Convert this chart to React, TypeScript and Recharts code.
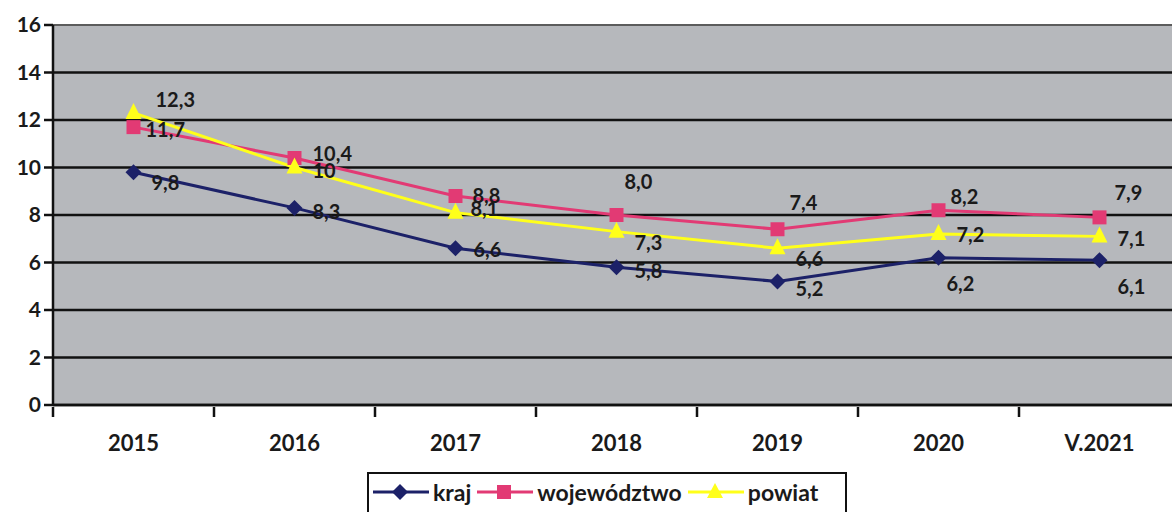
// Stopa bezrobocia — kraj / województwo / powiat, 2015–V.2021.
import { LineChart, Line, XAxis, YAxis, CartesianGrid } from "recharts";

const years = ["2015", "2016", "2017", "2018", "2019", "2020", "V.2021"];
const kraj = [9.8, 8.3, 6.6, 5.8, 5.2, 6.2, 6.1];
const wojewodztwo = [11.7, 10.4, 8.8, 8.0, 7.4, 8.2, 7.9];
const powiat = [12.3, 10, 8.1, 7.3, 6.6, 7.2, 7.1];
const yTicks = [0, 2, 4, 6, 8, 10, 12, 14, 16];

const data = years.map((year, i) => ({
  year,
  kraj: kraj[i],
  wojewodztwo: wojewodztwo[i],
  powiat: powiat[i],
}));

const FONT = "Lato, 'Open Sans', sans-serif";
const NAVY = "#1c2168";
const PINK = "#e23a74";
const YELLOW = "#ffff1a";

const CHART_W = 1180;
const Y_AXIS_W = 53;
const BAND = (CHART_W - Y_AXIS_W) / years.length;

// label offsets per series, by point index
const labelOffsets: Record<string, [number, number][]> = {
  kraj: [[18, 10], [18, 3], [18, 1], [18, 3], [18, 6], [8, 25], [18, 26]],
  wojewodztwo: [[12, 2], [18, -5], [17, -1], [8, -34], [12, -27], [12, -14], [15, -25]],
  powiat: [[22, -14], [18, 2], [15, -5], [18, 10], [18, 10], [18, 0], [18, 2]],
};

// Excel-like: one decimal, comma separator; "10" stays bare like the original
const fmt = (v: number) =>
  (Number.isInteger(v) && v >= 10 ? String(v) : v.toFixed(1)).replace(".", ",");

function makeLabel(key: string) {
  return (props: any) => {
    const { x, y, value, index } = props;
    const [dx, dy] = labelOffsets[key][index];
    return (
      <text
        x={x + dx}
        y={y + dy}
        fontFamily={FONT}
        fontWeight={700}
        fontSize={20}
        fill="#1a1a1a"
        textAnchor="start"
        dominantBaseline="central"
      >
        {fmt(value)}
      </text>
    );
  };
}

const Diamond = ({ cx, cy }: any) => (
  <path d={`M${cx},${cy - 8} L${cx + 8},${cy} L${cx},${cy + 8} L${cx - 8},${cy} Z`} fill={NAVY} />
);
const Square = ({ cx, cy }: any) => (
  <rect x={cx - 7} y={cy - 7} width={14} height={14} fill={PINK} />
);
const Triangle = ({ cx, cy }: any) => (
  <path d={`M${cx},${cy - 10} L${cx + 8},${cy + 6} L${cx - 8},${cy + 6} Z`} fill={YELLOW} />
);

const XTick = ({ x, y, payload }: any) => (
  <g>
    <line x1={x - BAND / 2} y1={y - 6} x2={x - BAND / 2} y2={y + 4} stroke="#111" strokeWidth={2.5} />
    <text
      x={x}
      y={y + 38}
      textAnchor="middle"
      fontFamily={FONT}
      fontWeight={700}
      fontSize={22}
      fill="#1a1a1a"
    >
      {payload.value}
    </text>
  </g>
);

const GridLine = (props: any) => {
  const { x1, x2, y1, y2, index } = props;
  const top = y1 < 30;
  return (
    <line
      key={`g-${index}`}
      x1={x1}
      x2={x2}
      y1={y1}
      y2={y2}
      stroke={top ? "#5c5c5c" : "#111"}
      strokeWidth={top ? 2 : 2.5}
    />
  );
};

function LegendBox() {
  const items = [
    { name: "kraj", color: NAVY, mark: <path d="M27,4 L35,12 L27,20 L19,12 Z" fill={NAVY} /> },
    {
      name: "województwo",
      color: PINK,
      mark: <rect x={20} y={5} width={14} height={14} fill={PINK} />,
    },
    {
      name: "powiat",
      color: YELLOW,
      mark: <path d="M27,3 L35,18 L19,18 Z" fill={YELLOW} />,
    },
  ];
  return (
    <div
      style={{
        position: "absolute",
        left: 367,
        top: 472,
        width: 480,
        height: 50,
        border: "2px solid #111",
        boxSizing: "border-box",
        display: "flex",
        alignItems: "flex-start",
        paddingTop: 6,
        paddingLeft: 4,
        fontFamily: FONT,
        fontWeight: 700,
        fontSize: 23,
        color: "#1a1a1a",
        background: "#fff",
      }}
    >
      {items.map((it) => (
        <div key={it.name} style={{ display: "flex", alignItems: "center", marginRight: 6 }}>
          <svg width={56} height={24}>
            <line x1={0} y1={12} x2={56} y2={12} stroke={it.color} strokeWidth={3} />
            {it.mark}
          </svg>
          <span style={{ marginLeft: 4, lineHeight: "24px" }}>{it.name}</span>
        </div>
      ))}
    </div>
  );
}

export default function App() {
  return (
    <div
      style={{
        position: "absolute",
        left: 0,
        top: 0,
        width: 1172,
        height: 512,
        overflow: "hidden",
        background: "#fff",
      }}
    >
      <LineChart
        width={CHART_W}
        height={512}
        data={data}
        margin={{ top: 25, right: 0, left: 0, bottom: 52 }}
      >
        <CartesianGrid
          vertical={false}
          fill="#b6b8bc"
          horizontal={GridLine}
          syncWithTicks
        />
        <XAxis
          dataKey="year"
          scale="band"
          height={55}
          axisLine={{ stroke: "#111", strokeWidth: 2.5 }}
          tickLine={false}
          tick={<XTick />}
          interval={0}
        />
        <YAxis
          domain={[0, 16]}
          ticks={yTicks}
          width={Y_AXIS_W}
          interval={0}
          axisLine={{ stroke: "#111", strokeWidth: 2.5 }}
          tickLine={{ stroke: "#111", strokeWidth: 2.5 }}
          tickSize={9}
          tickMargin={3}
          tick={{ fontFamily: FONT, fontWeight: 700, fontSize: 21, fill: "#1a1a1a" }}
        />
        <Line
          dataKey="kraj"
          stroke={NAVY}
          strokeWidth={3}
          dot={<Diamond />}
          activeDot={false}
          label={makeLabel("kraj")}
          isAnimationActive={false}
        />
        <Line
          dataKey="wojewodztwo"
          stroke={PINK}
          strokeWidth={3}
          dot={<Square />}
          activeDot={false}
          label={makeLabel("wojewodztwo")}
          isAnimationActive={false}
        />
        <Line
          dataKey="powiat"
          stroke={YELLOW}
          strokeWidth={3}
          dot={<Triangle />}
          activeDot={false}
          label={makeLabel("powiat")}
          isAnimationActive={false}
        />
      </LineChart>
      <LegendBox />
    </div>
  );
}
